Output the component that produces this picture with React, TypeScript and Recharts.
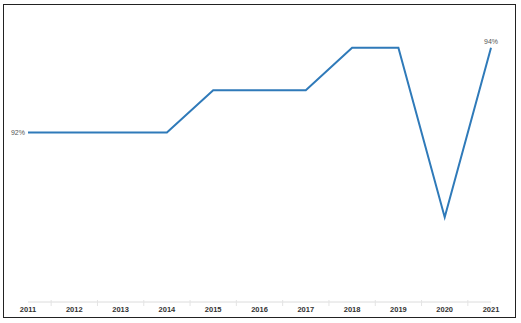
import { LineChart, Line, XAxis, YAxis, LabelList } from "recharts";

const years = ["2011", "2012", "2013", "2014", "2015", "2016", "2017", "2018", "2019", "2020", "2021"];
const rates = [92, 92, 92, 92, 93, 93, 93, 94, 94, 90, 94];

const data = years.map((year, i) => ({ year, rate: rates[i] }));

const STEP = 46.3;

const YearTick = ({ x, y, payload, index }: any) => (
  <g>
    {index > 0 && (
      <line x1={x - STEP / 2} x2={x - STEP / 2} y1={y - 10} y2={y - 4} stroke="#e4e4e4" strokeWidth={1} />
    )}
    <text
      x={x}
      y={y + 1.5}
      textAnchor="middle"
      fontSize={7.5}
      fontWeight="bold"
      fill="#333"
      fontFamily="Liberation Sans, Arial, sans-serif"
    >
      {payload.value}
    </text>
  </g>
);

const EndLabel = ({ x, y, value, index }: any) => {
  if (index === 0) {
    return (
      <text x={x - 3} y={y + 2.5} textAnchor="end" fontSize={7} fill="#555" fontFamily="Liberation Sans, Arial, sans-serif">
        {value}%
      </text>
    );
  }
  if (index === rates.length - 1) {
    return (
      <text x={x} y={y - 4} textAnchor="middle" fontSize={7} fill="#555" fontFamily="Liberation Sans, Arial, sans-serif">
        {value}%
      </text>
    );
  }
  return null;
};

export default function App() {
  return (
    <div style={{ position: "absolute", left: 0, top: 0, width: 521, height: 323, background: "#fff" }}>
      <div
        style={{
          position: "absolute",
          left: 3,
          top: 4,
          width: 513,
          height: 314,
          border: "1px solid #222",
          boxSizing: "border-box",
        }}
      />
      <div style={{ position: "absolute", left: 0, top: 0 }}>
        <LineChart width={521} height={323} data={data} margin={{ top: 5.5, right: 30, bottom: 0, left: 28 }}>
          <XAxis
            dataKey="year"
            height={21}
            axisLine={{ stroke: "#dcdcdc" }}
            tickLine={false}
            tick={<YearTick />}
            interval={0}
          />
          <YAxis hide domain={[88, 95]} />
          <Line
            type="linear"
            dataKey="rate"
            stroke="#2f7ab9"
            strokeWidth={2}
            dot={false}
            isAnimationActive={false}
          >
            <LabelList dataKey="rate" content={<EndLabel />} />
          </Line>
        </LineChart>
      </div>
    </div>
  );
}
